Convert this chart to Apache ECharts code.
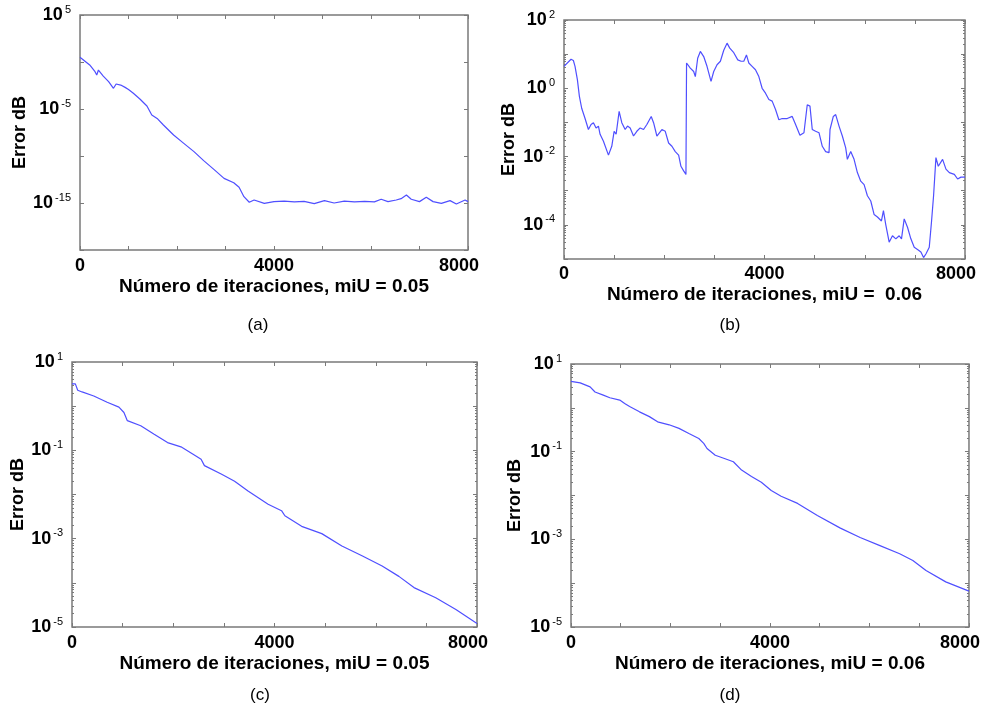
<!DOCTYPE html>
<html>
<head>
<meta charset="utf-8">
<script src="https://cdn.jsdelivr.net/npm/echarts@6/dist/echarts.min.js"></script>
<style>
  html, body { margin: 0; padding: 0; background: #ffffff; }
  #chart { width: 983px; height: 709px; }
</style>
</head>
<body>
<div id="chart"></div>
<script>
// ---- Convergence of the error for the four runs ----

// (a) miU = 0.05
const iterA = [0, 200, 310, 345, 380, 480, 590, 690, 745, 840, 930, 1000, 1100, 1240, 1380, 1480, 1590, 1720,
  1930, 2140, 2350, 2550, 2760, 2970, 3170, 3280, 3380, 3490, 3590, 3800, 4000, 4210, 4420, 4620, 4830, 5040,
  5240, 5450, 5660, 5870, 6070, 6210, 6350, 6520, 6620, 6730, 6830, 7000, 7140, 7280, 7450, 7630, 7760, 7940, 8000];
const errorA = [3.2, 0.48, 0.093, 0.042, 0.14, 0.032, 0.0081, 0.0016, 0.0046, 0.0035, 0.0020, 0.0012, 4.7e-4,
  1.1e-4, 2.1e-5, 2.3e-6, 1.0e-6, 2.0e-7, 1.7e-8, 2.2e-9, 2.9e-10, 3.2e-11, 3.8e-12, 4.2e-13, 1.4e-13, 4.7e-14,
  4.7e-15, 1.2e-15, 2.1e-15, 9.1e-16, 1.4e-15, 1.6e-15, 1.3e-15, 1.5e-15, 8.5e-16, 1.8e-15, 1.0e-15, 1.6e-15,
  1.3e-15, 1.5e-15, 1.3e-15, 2.5e-15, 1.4e-15, 2.1e-15, 2.9e-15, 7.1e-15, 2.5e-15, 1.4e-15, 4.0e-15, 1.4e-15,
  9.1e-16, 1.8e-15, 7.8e-16, 2.1e-15, 1.4e-15];

// (b) miU = 0.06
const iterB = [0, 140, 187, 220, 267, 307, 353, 420, 487, 540, 587, 640, 687, 720, 787, 887, 953, 1000, 1040,
  1100, 1153, 1220, 1267, 1320, 1387, 1453, 1520, 1587, 1653, 1740, 1787, 1853, 1953, 2020, 2087, 2153, 2220,
  2287, 2333, 2387, 2433, 2445, 2520, 2587, 2620, 2667, 2720, 2787, 2853, 2933, 2987, 3053, 3120, 3187, 3253,
  3307, 3387, 3467, 3533, 3587, 3640, 3687, 3753, 3820, 3887, 3953, 4020, 4087, 4153, 4220, 4287, 4353, 4453,
  4553, 4620, 4707, 4787, 4853, 4907, 4953, 5020, 5087, 5153, 5220, 5287, 5307, 5373, 5420, 5487, 5553, 5620,
  5653, 5720, 5787, 5853, 5920, 5987, 6053, 6120, 6187, 6253, 6333, 6373, 6420, 6487, 6553, 6620, 6687, 6733,
  6787, 6853, 6920, 6987, 7053, 7120, 7173, 7220, 7287, 7333, 7373, 7420, 7467, 7553, 7620, 7687, 7787, 7853,
  7920, 8000];
const errorB = [4.4, 7.1, 6.5, 4.4, 1.8, 0.58, 0.26, 0.13, 0.062, 0.087, 0.098, 0.069, 0.078, 0.045, 0.028,
  0.011, 0.020, 0.055, 0.045, 0.21, 0.098, 0.062, 0.078, 0.069, 0.040, 0.055, 0.069, 0.062, 0.087, 0.15, 0.098,
  0.040, 0.062, 0.055, 0.025, 0.020, 0.014, 0.011, 0.0052, 0.0038, 0.0030, 5.5, 3.9, 3.1, 2.2, 7.6, 12, 8.5,
  4.4, 1.6, 3.1, 4.9, 6.2, 13, 21, 15, 11, 6.8, 6.2, 6.2, 9.5, 5.5, 4.4, 3.5, 2.2, 1.0, 0.72, 0.47, 0.42, 0.24,
  0.12, 0.13, 0.13, 0.15, 0.087, 0.042, 0.050, 0.33, 0.30, 0.062, 0.055, 0.050, 0.020, 0.014, 0.013, 0.062,
  0.15, 0.17, 0.078, 0.040, 0.018, 0.0083, 0.014, 0.0083, 0.0034, 0.0019, 0.0015, 7.1e-4, 5.0e-4, 2.0e-4,
  1.7e-4, 1.3e-4, 2.6e-4, 1.0e-4, 3.1e-5, 4.8e-5, 3.9e-5, 4.8e-5, 3.9e-5, 1.5e-4, 8.5e-5, 3.9e-5, 2.2e-5,
  1.9e-5, 1.6e-5, 1.1e-5, 1.4e-5, 2.2e-5, 1.3e-4, 7.1e-4, 0.0093, 0.0052, 0.0083, 0.0043, 0.0034, 0.0030,
  0.0022, 0.0025, 0.0025];

// (c) miU = 0.05
const iterC = [0, 66, 113, 199, 430, 695, 927, 1026, 1093, 1358, 1623, 1887, 2152, 2384, 2550, 2616, 2947,
  3212, 3477, 3874, 4139, 4205, 4536, 4934, 5331, 5728, 6126, 6457, 6755, 7185, 7583, 8000];
const errorC = [3.2, 3.2, 2.3, 2.1, 1.7, 1.23, 0.95, 0.72, 0.47, 0.36, 0.23, 0.15, 0.12, 0.083, 0.063, 0.045,
  0.029, 0.020, 0.012, 0.0060, 0.0043, 0.0033, 0.0019, 0.0013, 6.8e-4, 4.1e-4, 2.4e-4, 1.4e-4, 7.8e-5, 4.6e-5,
  2.5e-5, 1.2e-5];

// (d) miU = 0.06
const iterD = [0, 185, 384, 483, 649, 781, 980, 1079, 1178, 1377, 1576, 1741, 1973, 2171, 2370, 2569, 2668,
  2734, 2900, 3098, 3264, 3429, 3628, 3826, 4025, 4224, 4555, 4952, 5415, 5812, 6210, 6607, 6872, 7136, 7533, 8000];
const errorD = [4.0, 3.7, 3.0, 2.3, 1.95, 1.7, 1.5, 1.26, 1.07, 0.81, 0.63, 0.48, 0.41, 0.34, 0.26, 0.20, 0.155,
  0.118, 0.083, 0.069, 0.059, 0.038, 0.027, 0.020, 0.013, 0.0096, 0.0066, 0.0035, 0.0018, 0.0011, 7.2e-4,
  4.7e-4, 3.3e-4, 1.95e-4, 1.07e-4, 6.6e-5];

// Axis texts
const xTickLabels = [0, 4000, 8000];
const yLabelsA = [1e5, 1e-5, 1e-15];
const yLabelsB = [1e2, 1e0, 1e-2, 1e-4];
const yLabelsC = [1e1, 1e-1, 1e-3, 1e-5];
const yLabelsD = [1e1, 1e-1, 1e-3, 1e-5];
const yMajorA = [1e5, 1e0, 1e-5, 1e-10, 1e-15, 1e-20];
const xTitles = ['Número de iteraciones, miU = 0.05', 'Número de iteraciones, miU =  0.06',
  'Número de iteraciones, miU = 0.05', 'Número de iteraciones, miU = 0.06'];
const yTitle = 'Error dB';
const captions = ['(a)', '(b)', '(c)', '(d)'];

// ---- layout & styling ----
const FONT = '"Liberation Sans", Arial, sans-serif';
const LINE = '#4f4fff';
const FRAME = '#7a7a7a';

function decades(lo, hi) {            // 10^lo ... 10^hi
  const out = [];
  for (let e = hi; e >= lo; e--) out.push(Number('1e' + e));
  return out;
}
function logMinors(lo, hi) {          // 2..9 x 10^e inside each decade
  const out = [];
  for (let e = lo; e < hi; e++) for (let m = 2; m <= 9; m++) out.push(Number(m + 'e' + e));
  return out;
}

const panels = [
  { grid: { left: 80, top: 15, width: 388, height: 235 }, min: 1e-20, max: 1e5,
    major: yMajorA, minor: [], labels: yLabelsA, iters: iterA, errs: errorA,
    nameGapY: 43, nameGapX: 22, labelMarginX: 7, caption: [258, 325] },
  { grid: { left: 564, top: 20, width: 401, height: 239 }, min: 1e-5, max: 1e2,
    major: decades(-5, 2), minor: logMinors(-5, 2), labels: yLabelsB, iters: iterB, errs: errorB,
    nameGapY: 46, nameGapX: 22, labelMarginX: 6, caption: [730, 325] },
  { grid: { left: 72, top: 362, width: 405, height: 265 }, min: 1e-5, max: 1e1,
    major: decades(-5, 1), minor: logMinors(-5, 1), labels: yLabelsC, iters: iterC, errs: errorC,
    nameGapY: 42, nameGapX: 24, labelMarginX: 7, caption: [260, 695] },
  { grid: { left: 571, top: 364, width: 402, height: 263 }, min: 1e-5, max: 1e1,
    major: decades(-5, 1), minor: logMinors(-5, 1), labels: yLabelsD, iters: iterD, errs: errorD,
    nameGapY: 47, nameGapX: 24, labelMarginX: 7, caption: [730, 695] }
];

const grids = [], xAxes = [], yAxes = [], series = [], graphics = [];

panels.forEach((p, k) => {
  grids.push(Object.assign({ show: true, borderColor: FRAME, borderWidth: 1.5, backgroundColor: '#fff' }, p.grid));

  const xBase = {
    gridIndex: k, type: 'value', min: 0, max: 8000, interval: 1000,
    axisLine: { show: false }, splitLine: { show: false },
    axisTick: { show: true, inside: true, length: 4, lineStyle: { color: FRAME, width: 1 } }
  };
  xAxes.push(Object.assign({}, xBase, {
    position: 'bottom',
    name: xTitles[k], nameLocation: 'middle', nameGap: p.nameGapX,
    nameTextStyle: { fontFamily: FONT, fontWeight: 'bold', fontSize: 19, color: '#000',
      verticalAlign: 'top', lineHeight: 22 },
    axisLabel: {
      customValues: xTickLabels, margin: p.labelMarginX,
      fontFamily: FONT, fontWeight: 'bold', fontSize: 18, color: '#000',
      formatter: v => (v === 8000 ? '{r|8000}' : String(v)),
      rich: { r: { fontFamily: FONT, fontWeight: 'bold', fontSize: 18, color: '#000', padding: [0, 18, 0, 0] } }
    }
  }));
  xAxes.push(Object.assign({}, xBase, { position: 'top', axisLabel: { show: false } }));

  const yBase = {
    gridIndex: k, type: 'log', logBase: 10, min: p.min, max: p.max,
    axisLine: { show: false }, splitLine: { show: false }, minorTick: { show: false }
  };
  const majorTick = { show: true, inside: true, length: 4, customValues: p.major, lineStyle: { color: FRAME, width: 1 } };
  const minorTick = { show: p.minor.length > 0, inside: true, length: 2, customValues: p.minor.length ? p.minor : [p.max],
    lineStyle: { color: FRAME, width: 1 } };

  yAxes.push(Object.assign({}, yBase, {
    position: 'left',
    name: yTitle, nameLocation: 'middle', nameGap: p.nameGapY, nameRotate: 90,
    nameTextStyle: { fontFamily: FONT, fontWeight: 'bold', fontSize: 18, color: '#000' },
    axisTick: majorTick,
    axisLabel: {
      customValues: p.labels, margin: 9,
      formatter: v => '{b|10}{s|' + Math.round(Math.log10(v)) + '}',
      rich: {
        b: { fontFamily: FONT, fontWeight: 'bold', fontSize: 18, color: '#000', lineHeight: 22 },
        s: { fontFamily: FONT, fontSize: 11, color: '#000', verticalAlign: 'top', lineHeight: 12, padding: [0, 0, 0, 2] }
      }
    }
  }));
  yAxes.push(Object.assign({}, yBase, { position: 'left', axisTick: minorTick, axisLabel: { show: false } }));
  yAxes.push(Object.assign({}, yBase, { position: 'right', axisTick: majorTick, axisLabel: { show: false } }));
  yAxes.push(Object.assign({}, yBase, { position: 'right', axisTick: minorTick, axisLabel: { show: false } }));

  series.push({
    type: 'line', xAxisIndex: 2 * k, yAxisIndex: 4 * k,
    data: p.iters.map((x, i) => [x, p.errs[i]]),
    showSymbol: false, symbol: 'none', clip: true,
    lineStyle: { color: LINE, width: 1.2 }
  });

  // sub-figure caption, centred on its point
  graphics.push({
    type: 'text', x: p.caption[0], y: p.caption[1],
    style: { text: captions[k], fontFamily: FONT, fontSize: 17, fill: '#000',
      textAlign: 'center', textVerticalAlign: 'middle' }
  });
});

const chart = echarts.init(document.getElementById('chart'), null, { renderer: 'canvas' });
chart.setOption({
  animation: false,
  backgroundColor: '#ffffff',
  grid: grids,
  xAxis: xAxes,
  yAxis: yAxes,
  series: series,
  graphic: graphics
});
</script>
</body>
</html>
